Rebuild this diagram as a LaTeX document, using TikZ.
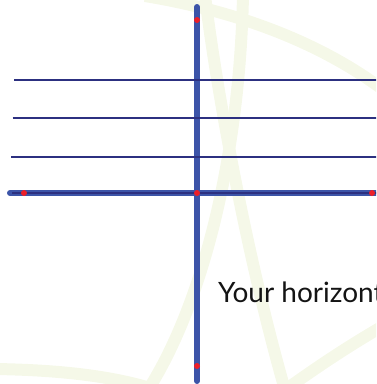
\documentclass[tikz,border=0pt]{standalone}
\usepackage{fontspec}
\setmainfont{Lato}
\definecolor{bgarc}{RGB}{245,248,232}
\definecolor{axisblue}{RGB}{60,84,168}
\definecolor{gridnavy}{RGB}{44,48,128}
\definecolor{dotred}{RGB}{236,30,40}
\tikzset{
  bgband/.style={draw=bgarc, line width=12pt},
  thickaxis/.style={draw=axisblue, line width=6pt, line cap=round},
  gridline/.style={draw=gridnavy, line width=1.8pt},
  reddot/.style={circle, fill=dotred, inner sep=0pt, minimum size=6pt},
  label/.style={font=\fontsize{28}{30}\selectfont, text=black!92, anchor=base west, inner sep=0pt}
}
\begin{document}
\begin{tikzpicture}[x=1pt,y=-1pt]
\useasboundingbox (0,0) rectangle (376,384);
\begin{scope}
\clip (0,0) rectangle (376,384);
% faint background arcs
\draw[bgband] (145,-4) .. controls (230,10) and (320,40) .. (390,95);
\draw[bgband] (205,-5) .. controls (215,80) and (245,250) .. (285,390);
\draw[bgband] (243,-5) .. controls (240,150) and (205,300) .. (148,390);
\draw[bgband] (-5,369) .. controls (60,370) and (110,376) .. (150,388);
\draw[bgband] (285,390) .. controls (320,365) and (350,345) .. (390,322);
% coordinates
\coordinate (vtop) at (197,7);
\coordinate (vbot) at (197,381);
\coordinate (hleft) at (10,193);
\coordinate (hright) at (382,193);
\coordinate (g1l) at (14,80);   \coordinate (g1r) at (380,80);
\coordinate (g2l) at (12.5,118); \coordinate (g2r) at (380,118);
\coordinate (g3l) at (11,157);  \coordinate (g3r) at (380,157);
\coordinate (g4l) at (12,193);  \coordinate (g4r) at (380,193);
% axes
\draw[thickaxis] (vtop) -- (vbot);
\draw[thickaxis] (hleft) -- (hright);
% grid lines
\draw[gridline] (g1l) -- (g1r);
\draw[gridline] (g2l) -- (g2r);
\draw[gridline] (g3l) -- (g3r);
\draw[gridnavy, line width=1.2pt] (g4l) -- (g4r);
% red dots
\node[reddot] (d1) at (197,20) {};
\node[reddot] (d2) at (197,193) {};
\node[reddot] (d3) at (24,193) {};
\node[reddot] (d4) at (372,193) {};
\node[reddot] (d5) at (197,366) {};
% text
\node[label] (txt) at (218,302) {Your horizont};
\end{scope}
\end{tikzpicture}
\end{document}
